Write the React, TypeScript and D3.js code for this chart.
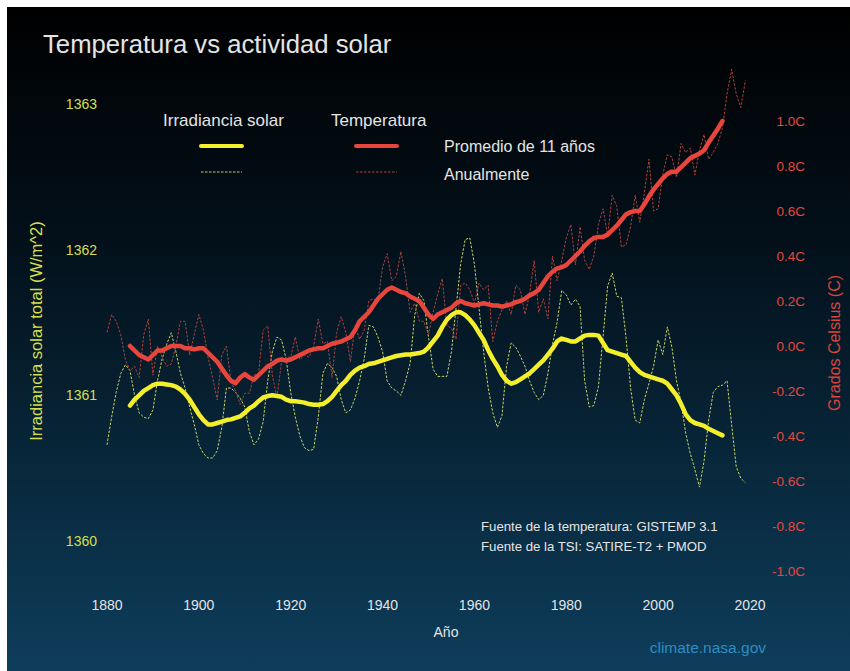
import * as d3 from 'd3'

const firstYear = 1880
const smoothStart = 1885

// annual total solar irradiance (W/m^2), 1880-2019
const tsiAnnual = [
  1360.66, 1360.85, 1361.02, 1361.15, 1361.21, 1361.17, 1361.00, 1360.88, 1360.85, 1360.84,
  1360.90, 1361.10, 1361.25, 1361.35, 1361.43, 1361.30, 1361.15, 1361.05, 1360.92, 1360.80,
  1360.66, 1360.60, 1360.57, 1360.57, 1360.62, 1360.78, 1361.05, 1361.05, 1361.02, 1360.98,
  1360.92, 1360.75, 1360.66, 1360.70, 1360.82, 1361.10, 1361.30, 1361.40, 1361.38, 1361.25,
  1361.02, 1360.85, 1360.72, 1360.64, 1360.62, 1360.63, 1360.85, 1361.15, 1361.22, 1361.19,
  1361.13, 1360.97, 1360.88, 1360.90, 1360.98, 1361.10, 1361.25, 1361.48, 1361.47, 1361.40,
  1361.30, 1361.10, 1361.05, 1361.03, 1361.00, 1361.10, 1361.22, 1361.55, 1361.70, 1361.65,
  1361.40, 1361.18, 1361.13, 1361.13, 1361.13, 1361.30, 1361.60, 1361.90, 1362.07, 1362.08,
  1361.90, 1361.60, 1361.30, 1361.05, 1360.88, 1360.78, 1360.86, 1361.20, 1361.36, 1361.33,
  1361.27, 1361.20, 1361.10, 1361.02, 1360.97, 1361.00, 1361.15, 1361.35, 1361.50, 1361.72,
  1361.69, 1361.62, 1361.66, 1361.61, 1361.10, 1360.92, 1360.93, 1361.06, 1361.40, 1361.75,
  1361.84, 1361.68, 1361.67, 1361.40, 1361.05, 1360.83, 1360.81, 1360.97, 1361.08, 1361.20,
  1361.38, 1361.28, 1361.47, 1361.33, 1361.10, 1360.95, 1360.74, 1360.60, 1360.49, 1360.37,
  1360.55, 1360.83, 1361.02, 1361.06, 1361.07, 1361.10, 1360.80, 1360.51, 1360.43, 1360.40,
]

// 11-year average of TSI, 1885-2014
const tsiSmooth = [
  1360.93, 1360.97, 1361.00, 1361.03, 1361.05, 1361.07, 1361.08, 1361.08, 1361.075, 1361.07,
  1361.06, 1361.04, 1361.01, 1360.97, 1360.92, 1360.87, 1360.83, 1360.80, 1360.80, 1360.81,
  1360.82, 1360.83, 1360.835, 1360.845, 1360.855, 1360.88, 1360.91, 1360.93, 1360.96, 1360.985,
  1360.995, 1361.00, 1360.995, 1360.99, 1360.97, 1360.96, 1360.96, 1360.955, 1360.95, 1360.94,
  1360.935, 1360.935, 1360.94, 1360.96, 1360.99, 1361.03, 1361.07, 1361.10, 1361.14, 1361.17,
  1361.19, 1361.20, 1361.215, 1361.22, 1361.23, 1361.24, 1361.25, 1361.26, 1361.27, 1361.275,
  1361.28, 1361.28, 1361.285, 1361.29, 1361.30, 1361.33, 1361.37, 1361.41, 1361.47, 1361.52,
  1361.55, 1361.57, 1361.57, 1361.55, 1361.52, 1361.48, 1361.43, 1361.38, 1361.31, 1361.25,
  1361.20, 1361.14, 1361.10, 1361.08, 1361.09, 1361.11, 1361.13, 1361.15, 1361.18, 1361.21,
  1361.24, 1361.28, 1361.32, 1361.37, 1361.39, 1361.38, 1361.37, 1361.37, 1361.39, 1361.41,
  1361.415, 1361.415, 1361.41, 1361.36, 1361.31, 1361.30, 1361.29, 1361.28, 1361.27, 1361.23,
  1361.19, 1361.16, 1361.14, 1361.13, 1361.12, 1361.11, 1361.10, 1361.08, 1361.04, 1361.00,
  1360.94, 1360.87, 1360.83, 1360.81, 1360.80, 1360.79, 1360.77, 1360.755, 1360.74, 1360.725,
]

// annual temperature (C), 1880-2019
const tempAnnual = [
  0.06, 0.14, 0.11, 0.05, -0.06, -0.11, -0.09, -0.14, 0.05, 0.12,
  -0.13, 0.00, -0.05, -0.09, -0.08, 0.00, 0.11, 0.11, -0.04, 0.05,
  0.14, 0.07, -0.05, -0.14, -0.24, -0.04, 0.00, -0.16, -0.20, -0.26,
  -0.21, -0.21, -0.13, -0.12, 0.07, 0.09, -0.13, -0.23, -0.07, -0.05,
  -0.05, 0.04, -0.06, -0.04, -0.05, 0.00, 0.12, 0.01, 0.02, -0.14,
  0.06, 0.13, 0.06, -0.07, 0.09, 0.03, 0.07, 0.20, 0.21, 0.20,
  0.35, 0.41, 0.29, 0.31, 0.42, 0.31, 0.15, 0.19, 0.11, 0.11,
  0.05, 0.15, 0.23, 0.30, 0.09, 0.08, 0.03, 0.27, 0.28, 0.25,
  0.19, 0.28, 0.25, 0.27, 0.02, 0.11, 0.16, 0.20, 0.14, 0.27,
  0.25, 0.14, 0.23, 0.38, 0.15, 0.21, 0.12, 0.40, 0.29, 0.38,
  0.48, 0.54, 0.36, 0.53, 0.38, 0.34, 0.40, 0.54, 0.61, 0.49,
  0.67, 0.62, 0.44, 0.45, 0.53, 0.67, 0.55, 0.68, 0.83, 0.60,
  0.61, 0.76, 0.85, 0.84, 0.75, 0.90, 0.86, 0.88, 0.76, 0.87,
  0.94, 0.83, 0.86, 0.90, 0.97, 1.12, 1.23, 1.12, 1.06, 1.18,
]

// 11-year average temperature (C), 1885-2014
const tempSmooth = [
  0.00, -0.02, -0.04, -0.05, -0.06, -0.04, -0.02, -0.02, -0.01, 0.00,
  0.00, 0.00, -0.01, -0.01, -0.015, -0.01, -0.01, -0.03, -0.05, -0.07,
  -0.10, -0.13, -0.155, -0.165, -0.14, -0.125, -0.14, -0.15, -0.13, -0.11,
  -0.09, -0.08, -0.065, -0.06, -0.065, -0.06, -0.05, -0.04, -0.03, -0.02,
  -0.015, -0.01, -0.01, 0.00, 0.01, 0.015, 0.02, 0.03, 0.04, 0.07,
  0.11, 0.13, 0.15, 0.18, 0.21, 0.23, 0.25, 0.26, 0.25, 0.24,
  0.235, 0.22, 0.21, 0.20, 0.17, 0.14, 0.12, 0.14, 0.15, 0.16,
  0.17, 0.19, 0.20, 0.19, 0.185, 0.18, 0.185, 0.19, 0.185, 0.18,
  0.18, 0.175, 0.18, 0.185, 0.195, 0.20, 0.21, 0.225, 0.235, 0.25,
  0.28, 0.31, 0.33, 0.345, 0.35, 0.36, 0.38, 0.40, 0.42, 0.445,
  0.465, 0.48, 0.485, 0.485, 0.495, 0.515, 0.535, 0.56, 0.585, 0.595,
  0.60, 0.60, 0.63, 0.665, 0.695, 0.72, 0.745, 0.765, 0.775, 0.775,
  0.795, 0.815, 0.835, 0.845, 0.855, 0.87, 0.905, 0.935, 0.965, 1.00,
]

const yearTicks = [1880, 1900, 1920, 1940, 1960, 1980, 2000, 2020]
const tsiTicks = [1360, 1361, 1362, 1363]
const tempTicks = [-1.0, -0.8, -0.6, -0.4, -0.2, 0.0, 0.2, 0.4, 0.6, 0.8, 1.0]

const W = 850
const H = 671
const FONT = '"Liberation Sans", Arial, Helvetica, sans-serif'

const x = d3.scaleLinear().domain([1880, 2020]).range([107, 750])
const yTsi = d3.scaleLinear().domain([1360, 1363]).range([541, 104])
const yTemp = d3.scaleLinear().domain([-1, 1]).range([571, 121])

type Pt = [number, number]
const toPts = (vals: number[], start: number): Pt[] => vals.map((v, i) => [start + i, v])

const tsiLine = d3.line<Pt>().x(d => x(d[0])).y(d => yTsi(d[1]))
const tempLine = d3.line<Pt>().x(d => x(d[0])).y(d => yTemp(d[1]))

const YELLOW = '#f3ef2c'
const YELLOW_THIN = '#c5d36a'
const RED = '#e8463d'
const RED_THIN = '#ad423c'
const TEXT = '#e4e4e4'

export default function App() {
  return (
    <div style={{ position: 'absolute', left: 0, top: 0 }}>
      <svg width={W} height={H} style={{ display: 'block' }} fontFamily={FONT}>
        <defs>
          <linearGradient id="bg" x1="0" y1="0" x2="0" y2="1">
            <stop offset="0%" stopColor="#000000" />
            <stop offset="35%" stopColor="#03101a" />
            <stop offset="70%" stopColor="#08283c" />
            <stop offset="100%" stopColor="#0e3d5b" />
          </linearGradient>
        </defs>
        <rect x={0} y={0} width={W} height={H} fill="#ffffff" />
        <rect x={7} y={7} width={W - 7} height={H - 7} fill="url(#bg)" />

        <text x={43} y={53} fill={TEXT} fontSize={25.7}>Temperatura vs actividad solar</text>

        {/* left axis ticks */}
        {tsiTicks.map(t => (
          <text key={t} x={97} y={yTsi(t)} dy="0.35em" textAnchor="end" fill="#d5df4c" fontSize={14}>{t}</text>
        ))}
        {/* right axis ticks */}
        {tempTicks.map(t => (
          <text key={t} x={805} y={yTemp(t)} dy="0.35em" textAnchor="end" fill="#e2483f" fontSize={13.5}>
            {t.toFixed(1) + 'C'}
          </text>
        ))}
        {/* x axis ticks */}
        {yearTicks.map(t => (
          <text key={t} x={x(t)} y={605} dy="0.35em" textAnchor="middle" fill={TEXT} fontSize={14}>{t}</text>
        ))}
        <text x={446} y={632} dy="0.35em" textAnchor="middle" fill={TEXT} fontSize={14}>Año</text>

        <text transform="translate(42,331) rotate(-90)" textAnchor="middle" fill="#d5df4c" fontSize={16.5}>
          Irradiancia solar total (W/m^2)
        </text>
        <text transform="translate(840,343) rotate(-90)" textAnchor="middle" fill="#d9443b" fontSize={16}>
          Grados Celsius (C)
        </text>

        {/* annual lines */}
        <path d={tsiLine(toPts(tsiAnnual, firstYear)) ?? ''} fill="none" stroke={YELLOW_THIN}
          strokeWidth={1} strokeDasharray="2.5 1.5" />
        <path d={tempLine(toPts(tempAnnual, firstYear)) ?? ''} fill="none" stroke={RED_THIN}
          strokeWidth={1} strokeDasharray="2.5 1.5" />

        {/* 11-year averages */}
        <path d={tempLine(toPts(tempSmooth, smoothStart)) ?? ''} fill="none" stroke={RED}
          strokeWidth={4.5} strokeLinejoin="round" strokeLinecap="round" />
        <path d={tsiLine(toPts(tsiSmooth, smoothStart)) ?? ''} fill="none" stroke={YELLOW}
          strokeWidth={4.5} strokeLinejoin="round" strokeLinecap="round" />

        {/* legend */}
        <text x={163} y={120} dy="0.35em" fill={TEXT} fontSize={17}>Irradiancia solar</text>
        <text x={331} y={120} dy="0.35em" fill={TEXT} fontSize={17}>Temperatura</text>
        <line x1={201} x2={242} y1={146} y2={146} stroke={YELLOW} strokeWidth={4} strokeLinecap="round" />
        <line x1={356} x2={397} y1={146} y2={146} stroke={RED} strokeWidth={4} strokeLinecap="round" />
        <line x1={201} x2={242} y1={172} y2={172} stroke={YELLOW_THIN} strokeWidth={1} strokeDasharray="2.5 1.5" />
        <line x1={356} x2={397} y1={172} y2={172} stroke={RED_THIN} strokeWidth={1} strokeDasharray="2.5 1.5" />
        <text x={444} y={146} dy="0.35em" fill={TEXT} fontSize={16}>Promedio de 11 años</text>
        <text x={444} y={174} dy="0.35em" fill={TEXT} fontSize={16}>Anualmente</text>

        {/* sources */}
        <text x={481} y={526} dy="0.35em" fill={TEXT} fontSize={13.2}>Fuente de la temperatura: GISTEMP 3.1</text>
        <text x={481} y={546} dy="0.35em" fill={TEXT} fontSize={13.2}>Fuente de la TSI: SATIRE-T2 + PMOD</text>

        <text x={766} y={648} dy="0.35em" textAnchor="end" fill="#2f8dc2" fontSize={15.5}>climate.nasa.gov</text>
      </svg>
    </div>
  )
}
